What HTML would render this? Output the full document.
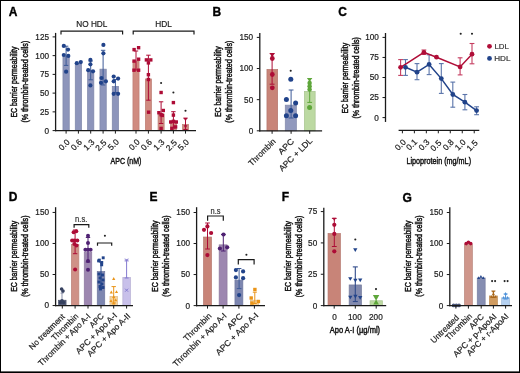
<!DOCTYPE html>
<html><head><meta charset="utf-8"><style>
html,body{margin:0;padding:0;background:#fff;}
svg{display:block;font-family:"Liberation Sans", sans-serif;will-change:transform;}
</style></head><body>
<svg width="520" height="373" viewBox="0 0 520 373">
<rect x="0" y="0" width="520" height="373" fill="#fff"/>
<text x="8.80" y="15.80" font-size="12" text-anchor="start" font-weight="bold" fill="#000" stroke="#000" stroke-width="0.35">A</text>
<line x1="55.60" y1="32.90" x2="55.60" y2="131.25" stroke="#1a1a1a" stroke-width="1.3"/>
<line x1="52.60" y1="130.60" x2="55.60" y2="130.60" stroke="#1a1a1a" stroke-width="1.0"/>
<text x="49.00" y="133.50" font-size="8.2" text-anchor="end" font-weight="normal" fill="#1c1c1c" stroke="#1c1c1c" stroke-width="0.2">0</text>
<line x1="52.60" y1="111.86" x2="55.60" y2="111.86" stroke="#1a1a1a" stroke-width="1.0"/>
<text x="49.00" y="114.76" font-size="8.2" text-anchor="end" font-weight="normal" fill="#1c1c1c" stroke="#1c1c1c" stroke-width="0.2">25</text>
<line x1="52.60" y1="93.12" x2="55.60" y2="93.12" stroke="#1a1a1a" stroke-width="1.0"/>
<text x="49.00" y="96.02" font-size="8.2" text-anchor="end" font-weight="normal" fill="#1c1c1c" stroke="#1c1c1c" stroke-width="0.2">50</text>
<line x1="52.60" y1="74.38" x2="55.60" y2="74.38" stroke="#1a1a1a" stroke-width="1.0"/>
<text x="49.00" y="77.28" font-size="8.2" text-anchor="end" font-weight="normal" fill="#1c1c1c" stroke="#1c1c1c" stroke-width="0.2">75</text>
<line x1="52.60" y1="55.64" x2="55.60" y2="55.64" stroke="#1a1a1a" stroke-width="1.0"/>
<text x="49.00" y="58.54" font-size="8.2" text-anchor="end" font-weight="normal" fill="#1c1c1c" stroke="#1c1c1c" stroke-width="0.2">100</text>
<line x1="52.60" y1="36.90" x2="55.60" y2="36.90" stroke="#1a1a1a" stroke-width="1.0"/>
<text x="49.00" y="39.80" font-size="8.2" text-anchor="end" font-weight="normal" fill="#1c1c1c" stroke="#1c1c1c" stroke-width="0.2">125</text>
<text transform="translate(16.70,82.05) rotate(-90)" font-size="9.0" text-anchor="middle" font-weight="normal" fill="#111" stroke="#111" stroke-width="0.45" textLength="71.11" lengthAdjust="spacingAndGlyphs">EC barrier permeability</text>
<text transform="translate(27.70,81.65) rotate(-90)" font-size="9.0" text-anchor="middle" font-weight="normal" fill="#111" stroke="#111" stroke-width="0.45" textLength="81.91" lengthAdjust="spacingAndGlyphs">(% thrombin-treated cells)</text>
<rect x="62.95" y="56.55" width="6.30" height="74.05" fill="#8d95bb" stroke="#7e86a8" stroke-width="0.7"/>
<rect x="75.25" y="63.25" width="6.30" height="67.35" fill="#8d95bb" stroke="#7e86a8" stroke-width="0.7"/>
<rect x="87.55" y="70.55" width="6.30" height="60.05" fill="#8d95bb" stroke="#7e86a8" stroke-width="0.7"/>
<rect x="99.95" y="69.15" width="6.30" height="61.45" fill="#8d95bb" stroke="#7e86a8" stroke-width="0.7"/>
<rect x="112.25" y="86.35" width="6.30" height="44.25" fill="#8d95bb" stroke="#7e86a8" stroke-width="0.7"/>
<rect x="132.95" y="60.95" width="6.10" height="69.65" fill="#d08b80" stroke="#bb7d73" stroke-width="0.7"/>
<rect x="145.35" y="78.95" width="6.10" height="51.65" fill="#d08b80" stroke="#bb7d73" stroke-width="0.7"/>
<rect x="158.05" y="113.95" width="6.10" height="16.65" fill="#d08b80" stroke="#bb7d73" stroke-width="0.7"/>
<rect x="170.35" y="120.95" width="6.10" height="9.65" fill="#d08b80" stroke="#bb7d73" stroke-width="0.7"/>
<rect x="182.45" y="124.55" width="6.10" height="6.05" fill="#d08b80" stroke="#bb7d73" stroke-width="0.7"/>
<line x1="66.10" y1="46.20" x2="66.10" y2="65.40" stroke="#3d5a98" stroke-width="1.0"/>
<line x1="63.90" y1="46.20" x2="68.30" y2="46.20" stroke="#3d5a98" stroke-width="1.0"/>
<line x1="63.90" y1="65.40" x2="68.30" y2="65.40" stroke="#3d5a98" stroke-width="1.0"/>
<circle cx="63.80" cy="45.90" r="2.1" fill="#21438a"/>
<circle cx="68.00" cy="49.60" r="2.1" fill="#21438a"/>
<circle cx="63.80" cy="55.00" r="2.1" fill="#21438a"/>
<circle cx="68.30" cy="55.90" r="2.1" fill="#21438a"/>
<circle cx="66.10" cy="71.70" r="2.1" fill="#21438a"/>
<circle cx="76.80" cy="63.20" r="2.1" fill="#21438a"/>
<circle cx="80.80" cy="62.10" r="2.1" fill="#21438a"/>
<line x1="90.70" y1="61.00" x2="90.70" y2="79.80" stroke="#3d5a98" stroke-width="1.0"/>
<line x1="88.50" y1="61.00" x2="92.90" y2="61.00" stroke="#3d5a98" stroke-width="1.0"/>
<line x1="88.50" y1="79.80" x2="92.90" y2="79.80" stroke="#3d5a98" stroke-width="1.0"/>
<circle cx="90.40" cy="59.90" r="2.1" fill="#21438a"/>
<circle cx="90.40" cy="64.30" r="2.1" fill="#21438a"/>
<circle cx="88.20" cy="70.20" r="2.1" fill="#21438a"/>
<circle cx="93.00" cy="71.30" r="2.1" fill="#21438a"/>
<circle cx="90.40" cy="85.40" r="2.1" fill="#21438a"/>
<line x1="103.10" y1="50.30" x2="103.10" y2="85.00" stroke="#3d5a98" stroke-width="1.0"/>
<line x1="100.90" y1="50.30" x2="105.30" y2="50.30" stroke="#3d5a98" stroke-width="1.0"/>
<line x1="100.90" y1="85.00" x2="105.30" y2="85.00" stroke="#3d5a98" stroke-width="1.0"/>
<circle cx="103.40" cy="44.90" r="2.1" fill="#21438a"/>
<circle cx="103.40" cy="53.30" r="2.1" fill="#21438a"/>
<circle cx="101.50" cy="78.00" r="2.1" fill="#21438a"/>
<circle cx="105.90" cy="81.30" r="2.1" fill="#21438a"/>
<circle cx="101.00" cy="82.80" r="2.1" fill="#21438a"/>
<line x1="115.40" y1="79.50" x2="115.40" y2="92.50" stroke="#3d5a98" stroke-width="1.0"/>
<line x1="113.20" y1="79.50" x2="117.60" y2="79.50" stroke="#3d5a98" stroke-width="1.0"/>
<line x1="113.20" y1="92.50" x2="117.60" y2="92.50" stroke="#3d5a98" stroke-width="1.0"/>
<circle cx="113.70" cy="76.60" r="2.1" fill="#21438a"/>
<circle cx="118.10" cy="78.60" r="2.1" fill="#21438a"/>
<circle cx="113.70" cy="81.30" r="2.1" fill="#21438a"/>
<circle cx="113.70" cy="93.80" r="2.1" fill="#21438a"/>
<circle cx="118.10" cy="93.80" r="2.1" fill="#21438a"/>
<line x1="136.00" y1="51.00" x2="136.00" y2="70.00" stroke="#ad0c36" stroke-width="1.0"/>
<line x1="133.80" y1="51.00" x2="138.20" y2="51.00" stroke="#ad0c36" stroke-width="1.0"/>
<line x1="133.80" y1="70.00" x2="138.20" y2="70.00" stroke="#ad0c36" stroke-width="1.0"/>
<rect x="132.40" y="47.90" width="3.4" height="3.4" fill="#ad0c36"/>
<rect x="136.90" y="46.00" width="3.4" height="3.4" fill="#ad0c36"/>
<rect x="132.40" y="59.40" width="3.4" height="3.4" fill="#ad0c36"/>
<rect x="136.90" y="57.50" width="3.4" height="3.4" fill="#ad0c36"/>
<rect x="132.30" y="68.50" width="3.4" height="3.4" fill="#ad0c36"/>
<rect x="136.90" y="68.50" width="3.4" height="3.4" fill="#ad0c36"/>
<line x1="148.40" y1="55.20" x2="148.40" y2="100.20" stroke="#ad0c36" stroke-width="1.0"/>
<line x1="146.20" y1="55.20" x2="150.60" y2="55.20" stroke="#ad0c36" stroke-width="1.0"/>
<line x1="146.20" y1="100.20" x2="150.60" y2="100.20" stroke="#ad0c36" stroke-width="1.0"/>
<rect x="144.70" y="58.20" width="3.4" height="3.4" fill="#ad0c36"/>
<rect x="149.10" y="58.20" width="3.4" height="3.4" fill="#ad0c36"/>
<rect x="146.70" y="61.20" width="3.4" height="3.4" fill="#ad0c36"/>
<rect x="146.70" y="73.00" width="3.4" height="3.4" fill="#ad0c36"/>
<rect x="146.70" y="77.80" width="3.4" height="3.4" fill="#ad0c36"/>
<rect x="146.90" y="110.50" width="3.4" height="3.4" fill="#ad0c36"/>
<line x1="161.10" y1="101.80" x2="161.10" y2="123.50" stroke="#ad0c36" stroke-width="1.0"/>
<line x1="158.90" y1="101.80" x2="163.30" y2="101.80" stroke="#ad0c36" stroke-width="1.0"/>
<line x1="158.90" y1="123.50" x2="163.30" y2="123.50" stroke="#ad0c36" stroke-width="1.0"/>
<rect x="159.40" y="90.80" width="3.4" height="3.4" fill="#ad0c36"/>
<rect x="161.60" y="108.80" width="3.4" height="3.4" fill="#ad0c36"/>
<rect x="157.20" y="111.00" width="3.4" height="3.4" fill="#ad0c36"/>
<rect x="159.40" y="113.00" width="3.4" height="3.4" fill="#ad0c36"/>
<rect x="160.60" y="113.70" width="3.4" height="3.4" fill="#ad0c36"/>
<rect x="159.40" y="126.70" width="3.4" height="3.4" fill="#ad0c36"/>
<circle cx="161.10" cy="83.00" r="1.05" fill="#222"/>
<line x1="173.40" y1="111.70" x2="173.40" y2="128.00" stroke="#ad0c36" stroke-width="1.0"/>
<line x1="171.20" y1="111.70" x2="175.60" y2="111.70" stroke="#ad0c36" stroke-width="1.0"/>
<line x1="171.20" y1="128.00" x2="175.60" y2="128.00" stroke="#ad0c36" stroke-width="1.0"/>
<rect x="171.70" y="100.90" width="3.4" height="3.4" fill="#ad0c36"/>
<rect x="171.70" y="113.40" width="3.4" height="3.4" fill="#ad0c36"/>
<rect x="169.00" y="120.30" width="3.4" height="3.4" fill="#ad0c36"/>
<rect x="171.70" y="119.60" width="3.4" height="3.4" fill="#ad0c36"/>
<rect x="174.60" y="120.30" width="3.4" height="3.4" fill="#ad0c36"/>
<rect x="170.20" y="126.70" width="3.4" height="3.4" fill="#ad0c36"/>
<rect x="173.90" y="125.20" width="3.4" height="3.4" fill="#ad0c36"/>
<circle cx="173.40" cy="92.50" r="1.05" fill="#222"/>
<line x1="185.50" y1="118.10" x2="185.50" y2="129.50" stroke="#ad0c36" stroke-width="1.0"/>
<line x1="183.30" y1="118.10" x2="187.70" y2="118.10" stroke="#ad0c36" stroke-width="1.0"/>
<line x1="183.30" y1="129.50" x2="187.70" y2="129.50" stroke="#ad0c36" stroke-width="1.0"/>
<circle cx="185.50" cy="110.70" r="1.05" fill="#222"/>
<path d="M183.60,117.95L187.40,117.95L185.50,121.25Z" fill="#ad0c36"/>
<path d="M183.60,125.25L187.40,125.25L185.50,128.55Z" fill="#ad0c36"/>
<line x1="54.95" y1="130.60" x2="196.00" y2="130.60" stroke="#1a1a1a" stroke-width="1.3"/>
<line x1="66.10" y1="130.60" x2="66.10" y2="133.60" stroke="#1a1a1a" stroke-width="1.0"/>
<line x1="78.40" y1="130.60" x2="78.40" y2="133.60" stroke="#1a1a1a" stroke-width="1.0"/>
<line x1="90.70" y1="130.60" x2="90.70" y2="133.60" stroke="#1a1a1a" stroke-width="1.0"/>
<line x1="103.10" y1="130.60" x2="103.10" y2="133.60" stroke="#1a1a1a" stroke-width="1.0"/>
<line x1="115.40" y1="130.60" x2="115.40" y2="133.60" stroke="#1a1a1a" stroke-width="1.0"/>
<line x1="136.00" y1="130.60" x2="136.00" y2="133.60" stroke="#1a1a1a" stroke-width="1.0"/>
<line x1="148.40" y1="130.60" x2="148.40" y2="133.60" stroke="#1a1a1a" stroke-width="1.0"/>
<line x1="161.10" y1="130.60" x2="161.10" y2="133.60" stroke="#1a1a1a" stroke-width="1.0"/>
<line x1="173.40" y1="130.60" x2="173.40" y2="133.60" stroke="#1a1a1a" stroke-width="1.0"/>
<line x1="185.50" y1="130.60" x2="185.50" y2="133.60" stroke="#1a1a1a" stroke-width="1.0"/>
<text transform="translate(70.30,142.66) rotate(-45)" font-size="8.4" text-anchor="end" font-weight="normal" fill="#1c1c1c" stroke="#1c1c1c" stroke-width="0.2">0.0</text>
<text transform="translate(82.50,142.66) rotate(-45)" font-size="8.4" text-anchor="end" font-weight="normal" fill="#1c1c1c" stroke="#1c1c1c" stroke-width="0.2">0.6</text>
<text transform="translate(95.00,142.66) rotate(-45)" font-size="8.4" text-anchor="end" font-weight="normal" fill="#1c1c1c" stroke="#1c1c1c" stroke-width="0.2">1.3</text>
<text transform="translate(107.10,143.16) rotate(-45)" font-size="8.4" text-anchor="end" font-weight="normal" fill="#1c1c1c" stroke="#1c1c1c" stroke-width="0.2">2.5</text>
<text transform="translate(119.50,142.56) rotate(-45)" font-size="8.4" text-anchor="end" font-weight="normal" fill="#1c1c1c" stroke="#1c1c1c" stroke-width="0.2">5.0</text>
<text transform="translate(140.40,142.56) rotate(-45)" font-size="8.4" text-anchor="end" font-weight="normal" fill="#1c1c1c" stroke="#1c1c1c" stroke-width="0.2">0.0</text>
<text transform="translate(152.50,142.66) rotate(-45)" font-size="8.4" text-anchor="end" font-weight="normal" fill="#1c1c1c" stroke="#1c1c1c" stroke-width="0.2">0.6</text>
<text transform="translate(165.10,142.66) rotate(-45)" font-size="8.4" text-anchor="end" font-weight="normal" fill="#1c1c1c" stroke="#1c1c1c" stroke-width="0.2">1.3</text>
<text transform="translate(177.50,143.16) rotate(-45)" font-size="8.4" text-anchor="end" font-weight="normal" fill="#1c1c1c" stroke="#1c1c1c" stroke-width="0.2">2.5</text>
<text transform="translate(189.60,142.66) rotate(-45)" font-size="8.4" text-anchor="end" font-weight="normal" fill="#1c1c1c" stroke="#1c1c1c" stroke-width="0.2">5.0</text>
<text x="110.60" y="163.50" font-size="9.3" text-anchor="start" font-weight="normal" fill="#111" stroke="#111" stroke-width="0.45" textLength="30.78" lengthAdjust="spacingAndGlyphs">APC (nM)</text>
<path d="M61,34.6V31.2H122.6V34.6" fill="none" stroke="#1a1a1a" stroke-width="1.2"/>
<path d="M133.2,34.6V31.2H194V34.6" fill="none" stroke="#1a1a1a" stroke-width="1.2"/>
<text x="76.25" y="26.65" font-size="8.8" text-anchor="start" font-weight="normal" fill="#1c1c1c" stroke="#1c1c1c" stroke-width="0.2" textLength="31.14" lengthAdjust="spacingAndGlyphs">NO HDL</text>
<text x="155.20" y="26.65" font-size="8.8" text-anchor="start" font-weight="normal" fill="#1c1c1c" stroke="#1c1c1c" stroke-width="0.2" textLength="16.58" lengthAdjust="spacingAndGlyphs">HDL</text>
<text x="212.40" y="16.35" font-size="12" text-anchor="start" font-weight="bold" fill="#000" stroke="#000" stroke-width="0.35">B</text>
<line x1="259.80" y1="33.00" x2="259.80" y2="131.45" stroke="#1a1a1a" stroke-width="1.3"/>
<line x1="256.80" y1="130.80" x2="259.80" y2="130.80" stroke="#1a1a1a" stroke-width="1.0"/>
<text x="253.20" y="133.70" font-size="8.2" text-anchor="end" font-weight="normal" fill="#1c1c1c" stroke="#1c1c1c" stroke-width="0.2">0</text>
<line x1="256.80" y1="99.67" x2="259.80" y2="99.67" stroke="#1a1a1a" stroke-width="1.0"/>
<text x="253.20" y="102.57" font-size="8.2" text-anchor="end" font-weight="normal" fill="#1c1c1c" stroke="#1c1c1c" stroke-width="0.2">50</text>
<line x1="256.80" y1="68.53" x2="259.80" y2="68.53" stroke="#1a1a1a" stroke-width="1.0"/>
<text x="253.20" y="71.43" font-size="8.2" text-anchor="end" font-weight="normal" fill="#1c1c1c" stroke="#1c1c1c" stroke-width="0.2">100</text>
<line x1="256.80" y1="37.40" x2="259.80" y2="37.40" stroke="#1a1a1a" stroke-width="1.0"/>
<text x="253.20" y="40.30" font-size="8.2" text-anchor="end" font-weight="normal" fill="#1c1c1c" stroke="#1c1c1c" stroke-width="0.2">150</text>
<text transform="translate(221.32,81.70) rotate(-90)" font-size="9.0" text-anchor="middle" font-weight="normal" fill="#111" stroke="#111" stroke-width="0.45" textLength="70.61" lengthAdjust="spacingAndGlyphs">EC barrier permeability</text>
<text transform="translate(232.32,81.65) rotate(-90)" font-size="9.0" text-anchor="middle" font-weight="normal" fill="#111" stroke="#111" stroke-width="0.45" textLength="82.11" lengthAdjust="spacingAndGlyphs">(% thrombin-treated cells)</text>
<rect x="266.95" y="69.45" width="10.70" height="61.35" fill="#c88478" stroke="#b4766c" stroke-width="0.7"/>
<rect x="285.25" y="105.15" width="11.10" height="25.65" fill="#9199bd" stroke="#8289aa" stroke-width="0.7"/>
<rect x="304.35" y="91.35" width="10.80" height="39.45" fill="#bcd9a2" stroke="#a9c391" stroke-width="0.7"/>
<line x1="272.10" y1="53.60" x2="272.10" y2="84.20" stroke="#ad0c36" stroke-width="1.0"/>
<line x1="269.70" y1="53.60" x2="274.50" y2="53.60" stroke="#ad0c36" stroke-width="1.0"/>
<line x1="269.70" y1="84.20" x2="274.50" y2="84.20" stroke="#ad0c36" stroke-width="1.0"/>
<path d="M269.60,52.94L274.80,52.94L272.20,57.46Z" fill="#ad0c36"/>
<circle cx="272.30" cy="58.50" r="2.4" fill="#ad0c36"/>
<circle cx="272.30" cy="74.50" r="2.4" fill="#ad0c36"/>
<circle cx="272.30" cy="87.80" r="2.4" fill="#ad0c36"/>
<line x1="291.10" y1="90.00" x2="291.10" y2="118.00" stroke="#3d5a98" stroke-width="1.0"/>
<line x1="288.70" y1="90.00" x2="293.50" y2="90.00" stroke="#3d5a98" stroke-width="1.0"/>
<line x1="288.70" y1="118.00" x2="293.50" y2="118.00" stroke="#3d5a98" stroke-width="1.0"/>
<circle cx="290.80" cy="79.30" r="2.5" fill="#21438a"/>
<circle cx="286.40" cy="99.60" r="2.5" fill="#21438a"/>
<circle cx="295.60" cy="102.90" r="2.5" fill="#21438a"/>
<circle cx="290.80" cy="110.50" r="2.5" fill="#21438a"/>
<circle cx="286.40" cy="115.80" r="2.5" fill="#21438a"/>
<circle cx="295.60" cy="115.80" r="2.5" fill="#21438a"/>
<circle cx="290.70" cy="70.80" r="1.05" fill="#222"/>
<line x1="309.70" y1="78.60" x2="309.70" y2="102.40" stroke="#5ea63a" stroke-width="1.0"/>
<line x1="307.30" y1="78.60" x2="312.10" y2="78.60" stroke="#5ea63a" stroke-width="1.0"/>
<line x1="307.30" y1="102.40" x2="312.10" y2="102.40" stroke="#5ea63a" stroke-width="1.0"/>
<path d="M307.30,78.20L311.90,78.20L309.60,82.20Z" fill="#5ea63a"/>
<circle cx="309.60" cy="83.00" r="2.25" fill="#5ea63a"/>
<circle cx="309.60" cy="86.20" r="2.25" fill="#5ea63a"/>
<circle cx="309.60" cy="89.40" r="2.25" fill="#5ea63a"/>
<circle cx="309.60" cy="107.60" r="2.5" fill="#5ea63a"/>
<line x1="259.15" y1="130.80" x2="322.10" y2="130.80" stroke="#1a1a1a" stroke-width="1.3"/>
<line x1="272.10" y1="130.80" x2="272.10" y2="133.80" stroke="#1a1a1a" stroke-width="1.0"/>
<line x1="291.10" y1="130.80" x2="291.10" y2="133.80" stroke="#1a1a1a" stroke-width="1.0"/>
<line x1="309.70" y1="130.80" x2="309.70" y2="133.80" stroke="#1a1a1a" stroke-width="1.0"/>
<text transform="translate(276.30,141.96) rotate(-45)" font-size="8.3" text-anchor="end" font-weight="normal" fill="#1c1c1c" stroke="#1c1c1c" stroke-width="0.2" textLength="34.79" lengthAdjust="spacingAndGlyphs">Thrombin</text>
<text transform="translate(294.55,141.96) rotate(-45)" font-size="8.3" text-anchor="end" font-weight="normal" fill="#1c1c1c" stroke="#1c1c1c" stroke-width="0.2" textLength="18.58" lengthAdjust="spacingAndGlyphs">APC</text>
<text transform="translate(312.80,141.26) rotate(-45)" font-size="8.3" text-anchor="end" font-weight="normal" fill="#1c1c1c" stroke="#1c1c1c" stroke-width="0.2" textLength="43.18" lengthAdjust="spacingAndGlyphs">APC + LDL</text>
<text x="338.30" y="16.20" font-size="12" text-anchor="start" font-weight="bold" fill="#000" stroke="#000" stroke-width="0.35">C</text>
<line x1="385.50" y1="33.00" x2="385.50" y2="121.95" stroke="#1a1a1a" stroke-width="1.3"/>
<line x1="382.50" y1="117.60" x2="385.50" y2="117.60" stroke="#1a1a1a" stroke-width="1.0"/>
<text x="378.90" y="120.50" font-size="8.2" text-anchor="end" font-weight="normal" fill="#1c1c1c" stroke="#1c1c1c" stroke-width="0.2">0</text>
<line x1="382.50" y1="97.55" x2="385.50" y2="97.55" stroke="#1a1a1a" stroke-width="1.0"/>
<text x="378.90" y="100.45" font-size="8.2" text-anchor="end" font-weight="normal" fill="#1c1c1c" stroke="#1c1c1c" stroke-width="0.2">25</text>
<line x1="382.50" y1="77.50" x2="385.50" y2="77.50" stroke="#1a1a1a" stroke-width="1.0"/>
<text x="378.90" y="80.40" font-size="8.2" text-anchor="end" font-weight="normal" fill="#1c1c1c" stroke="#1c1c1c" stroke-width="0.2">50</text>
<line x1="382.50" y1="57.45" x2="385.50" y2="57.45" stroke="#1a1a1a" stroke-width="1.0"/>
<text x="378.90" y="60.35" font-size="8.2" text-anchor="end" font-weight="normal" fill="#1c1c1c" stroke="#1c1c1c" stroke-width="0.2">75</text>
<line x1="382.50" y1="37.40" x2="385.50" y2="37.40" stroke="#1a1a1a" stroke-width="1.0"/>
<text x="378.90" y="40.30" font-size="8.2" text-anchor="end" font-weight="normal" fill="#1c1c1c" stroke="#1c1c1c" stroke-width="0.2">100</text>
<text transform="translate(347.60,78.20) rotate(-90)" font-size="9.0" text-anchor="middle" font-weight="normal" fill="#111" stroke="#111" stroke-width="0.45" textLength="70.62" lengthAdjust="spacingAndGlyphs">EC barrier permeability</text>
<text transform="translate(358.60,77.80) rotate(-90)" font-size="9.0" text-anchor="middle" font-weight="normal" fill="#111" stroke="#111" stroke-width="0.45" textLength="81.42" lengthAdjust="spacingAndGlyphs">(% thrombin-treated cells)</text>
<line x1="398.60" y1="130.30" x2="479.30" y2="130.30" stroke="#1a1a1a" stroke-width="1.3"/>
<line x1="402.40" y1="130.30" x2="402.40" y2="133.30" stroke="#1a1a1a" stroke-width="1.0"/>
<line x1="414.37" y1="130.30" x2="414.37" y2="133.30" stroke="#1a1a1a" stroke-width="1.0"/>
<line x1="426.34" y1="130.30" x2="426.34" y2="133.30" stroke="#1a1a1a" stroke-width="1.0"/>
<line x1="438.31" y1="130.30" x2="438.31" y2="133.30" stroke="#1a1a1a" stroke-width="1.0"/>
<line x1="450.28" y1="130.30" x2="450.28" y2="133.30" stroke="#1a1a1a" stroke-width="1.0"/>
<line x1="462.25" y1="130.30" x2="462.25" y2="133.30" stroke="#1a1a1a" stroke-width="1.0"/>
<line x1="474.22" y1="130.30" x2="474.22" y2="133.30" stroke="#1a1a1a" stroke-width="1.0"/>
<text transform="translate(406.50,142.76) rotate(-45)" font-size="8.4" text-anchor="end" font-weight="normal" fill="#1c1c1c" stroke="#1c1c1c" stroke-width="0.2">0.0</text>
<text transform="translate(417.82,142.46) rotate(-45)" font-size="8.4" text-anchor="end" font-weight="normal" fill="#1c1c1c" stroke="#1c1c1c" stroke-width="0.2">0.1</text>
<text transform="translate(430.14,142.76) rotate(-45)" font-size="8.4" text-anchor="end" font-weight="normal" fill="#1c1c1c" stroke="#1c1c1c" stroke-width="0.2">0.3</text>
<text transform="translate(442.06,143.56) rotate(-45)" font-size="8.4" text-anchor="end" font-weight="normal" fill="#1c1c1c" stroke="#1c1c1c" stroke-width="0.2">0.5</text>
<text transform="translate(454.38,142.76) rotate(-45)" font-size="8.4" text-anchor="end" font-weight="normal" fill="#1c1c1c" stroke="#1c1c1c" stroke-width="0.2">0.8</text>
<text transform="translate(466.40,142.76) rotate(-45)" font-size="8.4" text-anchor="end" font-weight="normal" fill="#1c1c1c" stroke="#1c1c1c" stroke-width="0.2">1.0</text>
<text transform="translate(478.22,143.46) rotate(-45)" font-size="8.4" text-anchor="end" font-weight="normal" fill="#1c1c1c" stroke="#1c1c1c" stroke-width="0.2">1.5</text>
<text x="406.45" y="163.85" font-size="9.3" text-anchor="start" font-weight="normal" fill="#111" stroke="#111" stroke-width="0.45" textLength="64.61" lengthAdjust="spacingAndGlyphs">Lipoprotein (mg/mL)</text>
<line x1="405.50" y1="59.60" x2="405.50" y2="75.40" stroke="#5a74aa" stroke-width="1.1"/>
<line x1="403.10" y1="59.60" x2="407.90" y2="59.60" stroke="#5a74aa" stroke-width="1.1"/>
<line x1="403.10" y1="75.40" x2="407.90" y2="75.40" stroke="#5a74aa" stroke-width="1.1"/>
<line x1="417.00" y1="63.60" x2="417.00" y2="79.70" stroke="#5a74aa" stroke-width="1.1"/>
<line x1="414.60" y1="63.60" x2="419.40" y2="63.60" stroke="#5a74aa" stroke-width="1.1"/>
<line x1="414.60" y1="79.70" x2="419.40" y2="79.70" stroke="#5a74aa" stroke-width="1.1"/>
<line x1="429.10" y1="54.80" x2="429.10" y2="74.60" stroke="#5a74aa" stroke-width="1.1"/>
<line x1="426.70" y1="54.80" x2="431.50" y2="54.80" stroke="#5a74aa" stroke-width="1.1"/>
<line x1="426.70" y1="74.60" x2="431.50" y2="74.60" stroke="#5a74aa" stroke-width="1.1"/>
<line x1="441.30" y1="63.60" x2="441.30" y2="93.40" stroke="#5a74aa" stroke-width="1.1"/>
<line x1="438.90" y1="63.60" x2="443.70" y2="63.60" stroke="#5a74aa" stroke-width="1.1"/>
<line x1="438.90" y1="93.40" x2="443.70" y2="93.40" stroke="#5a74aa" stroke-width="1.1"/>
<line x1="452.80" y1="82.10" x2="452.80" y2="107.20" stroke="#5a74aa" stroke-width="1.1"/>
<line x1="450.40" y1="82.10" x2="455.20" y2="82.10" stroke="#5a74aa" stroke-width="1.1"/>
<line x1="450.40" y1="107.20" x2="455.20" y2="107.20" stroke="#5a74aa" stroke-width="1.1"/>
<line x1="464.90" y1="94.50" x2="464.90" y2="109.80" stroke="#5a74aa" stroke-width="1.1"/>
<line x1="462.50" y1="94.50" x2="467.30" y2="94.50" stroke="#5a74aa" stroke-width="1.1"/>
<line x1="462.50" y1="109.80" x2="467.30" y2="109.80" stroke="#5a74aa" stroke-width="1.1"/>
<line x1="476.60" y1="106.80" x2="476.60" y2="114.70" stroke="#5a74aa" stroke-width="1.1"/>
<line x1="474.20" y1="106.80" x2="479.00" y2="106.80" stroke="#5a74aa" stroke-width="1.1"/>
<line x1="474.20" y1="114.70" x2="479.00" y2="114.70" stroke="#5a74aa" stroke-width="1.1"/>
<line x1="400.60" y1="59.60" x2="400.60" y2="75.40" stroke="#c53d60" stroke-width="1.1"/>
<line x1="398.20" y1="59.60" x2="403.00" y2="59.60" stroke="#c53d60" stroke-width="1.1"/>
<line x1="398.20" y1="75.40" x2="403.00" y2="75.40" stroke="#c53d60" stroke-width="1.1"/>
<line x1="423.90" y1="50.00" x2="423.90" y2="54.40" stroke="#c53d60" stroke-width="1.1"/>
<line x1="421.50" y1="50.00" x2="426.30" y2="50.00" stroke="#c53d60" stroke-width="1.1"/>
<line x1="421.50" y1="54.40" x2="426.30" y2="54.40" stroke="#c53d60" stroke-width="1.1"/>
<line x1="460.10" y1="57.80" x2="460.10" y2="74.90" stroke="#c53d60" stroke-width="1.1"/>
<line x1="457.70" y1="57.80" x2="462.50" y2="57.80" stroke="#c53d60" stroke-width="1.1"/>
<line x1="457.70" y1="74.90" x2="462.50" y2="74.90" stroke="#c53d60" stroke-width="1.1"/>
<line x1="472.00" y1="43.50" x2="472.00" y2="63.80" stroke="#c53d60" stroke-width="1.1"/>
<line x1="469.60" y1="43.50" x2="474.40" y2="43.50" stroke="#c53d60" stroke-width="1.1"/>
<line x1="469.60" y1="63.80" x2="474.40" y2="63.80" stroke="#c53d60" stroke-width="1.1"/>
<polyline points="405.5,67.3 417.0,72.2 429.1,64.4 441.3,78.6 452.8,94.5 464.9,102.2 476.6,110.6" fill="none" stroke="#21438a" stroke-width="1.5"/>
<polyline points="400.6,67.3 423.9,52.4 436.5,57.2 460.1,66.9 472.0,54.2" fill="none" stroke="#b00e38" stroke-width="1.5"/>
<circle cx="405.50" cy="67.30" r="2.4" fill="#21438a"/>
<circle cx="417.00" cy="72.20" r="2.4" fill="#21438a"/>
<circle cx="429.10" cy="64.40" r="2.4" fill="#21438a"/>
<circle cx="441.30" cy="78.60" r="2.4" fill="#21438a"/>
<circle cx="452.80" cy="94.50" r="2.4" fill="#21438a"/>
<circle cx="464.90" cy="102.20" r="2.4" fill="#21438a"/>
<circle cx="476.60" cy="110.60" r="2.4" fill="#21438a"/>
<circle cx="400.60" cy="67.30" r="2.4" fill="#b00e38"/>
<circle cx="423.90" cy="52.40" r="2.4" fill="#b00e38"/>
<circle cx="436.50" cy="57.20" r="2.4" fill="#b00e38"/>
<circle cx="460.10" cy="66.90" r="2.4" fill="#b00e38"/>
<circle cx="472.00" cy="54.20" r="2.4" fill="#b00e38"/>
<circle cx="460.70" cy="33.70" r="1.05" fill="#222"/>
<circle cx="472.00" cy="33.70" r="1.05" fill="#222"/>
<circle cx="489.50" cy="46.30" r="2.4" fill="#b00e38"/>
<circle cx="489.50" cy="58.40" r="2.4" fill="#21438a"/>
<text x="494.45" y="48.55" font-size="8.0" text-anchor="start" font-weight="normal" fill="#333" stroke="#333" stroke-width="0.2" textLength="14.44" lengthAdjust="spacingAndGlyphs">LDL</text>
<text x="494.25" y="60.70" font-size="8.0" text-anchor="start" font-weight="normal" fill="#333" stroke="#333" stroke-width="0.2" textLength="16.18" lengthAdjust="spacingAndGlyphs">HDL</text>
<text x="8.80" y="201.10" font-size="12" text-anchor="start" font-weight="bold" fill="#000" stroke="#000" stroke-width="0.35">D</text>
<line x1="55.60" y1="207.20" x2="55.60" y2="306.20" stroke="#1a1a1a" stroke-width="1.3"/>
<line x1="52.60" y1="305.55" x2="55.60" y2="305.55" stroke="#1a1a1a" stroke-width="1.0"/>
<text x="49.00" y="308.45" font-size="8.2" text-anchor="end" font-weight="normal" fill="#1c1c1c" stroke="#1c1c1c" stroke-width="0.2">0</text>
<line x1="52.60" y1="274.51" x2="55.60" y2="274.51" stroke="#1a1a1a" stroke-width="1.0"/>
<text x="49.00" y="277.41" font-size="8.2" text-anchor="end" font-weight="normal" fill="#1c1c1c" stroke="#1c1c1c" stroke-width="0.2">50</text>
<line x1="52.60" y1="243.48" x2="55.60" y2="243.48" stroke="#1a1a1a" stroke-width="1.0"/>
<text x="49.00" y="246.38" font-size="8.2" text-anchor="end" font-weight="normal" fill="#1c1c1c" stroke="#1c1c1c" stroke-width="0.2">100</text>
<line x1="52.60" y1="212.44" x2="55.60" y2="212.44" stroke="#1a1a1a" stroke-width="1.0"/>
<text x="49.00" y="215.34" font-size="8.2" text-anchor="end" font-weight="normal" fill="#1c1c1c" stroke="#1c1c1c" stroke-width="0.2">150</text>
<text transform="translate(16.70,256.35) rotate(-90)" font-size="9.0" text-anchor="middle" font-weight="normal" fill="#111" stroke="#111" stroke-width="0.45" textLength="70.92" lengthAdjust="spacingAndGlyphs">EC barrier permeability</text>
<text transform="translate(27.70,256.15) rotate(-90)" font-size="9.0" text-anchor="middle" font-weight="normal" fill="#111" stroke="#111" stroke-width="0.45" textLength="81.31" lengthAdjust="spacingAndGlyphs">(% thrombin-treated cells)</text>
<rect x="58.55" y="300.25" width="7.50" height="5.30" fill="#555d78" stroke="#4c536c" stroke-width="0.7"/>
<rect x="71.35" y="244.35" width="7.50" height="61.20" fill="#cf9187" stroke="#ba8279" stroke-width="0.7"/>
<rect x="84.25" y="252.55" width="7.50" height="53.00" fill="#9d87b0" stroke="#8d799e" stroke-width="0.7"/>
<rect x="97.25" y="271.55" width="7.50" height="34.00" fill="#7d86b0" stroke="#70789e" stroke-width="0.7"/>
<rect x="109.95" y="296.35" width="7.50" height="9.20" fill="#f6d39e" stroke="#ddbd8e" stroke-width="0.7"/>
<rect x="122.85" y="277.55" width="7.50" height="28.00" fill="#c8c0ea" stroke="#b4acd2" stroke-width="0.7"/>
<line x1="62.00" y1="290.50" x2="62.00" y2="300.00" stroke="#8a90a8" stroke-width="1.0"/>
<line x1="60.50" y1="293.20" x2="63.50" y2="293.20" stroke="#8a90a8" stroke-width="0.9"/>
<circle cx="61.60" cy="289.00" r="1.8" fill="#36415f"/>
<circle cx="63.00" cy="291.10" r="1.8" fill="#36415f"/>
<circle cx="60.50" cy="302.50" r="1.8" fill="#36415f"/>
<circle cx="63.50" cy="302.50" r="1.8" fill="#36415f"/>
<circle cx="62.00" cy="300.80" r="1.8" fill="#36415f"/>
<line x1="75.10" y1="230.00" x2="75.10" y2="253.70" stroke="#ad0c36" stroke-width="1.0"/>
<line x1="72.90" y1="230.00" x2="77.30" y2="230.00" stroke="#ad0c36" stroke-width="1.0"/>
<line x1="72.90" y1="253.70" x2="77.30" y2="253.70" stroke="#ad0c36" stroke-width="1.0"/>
<circle cx="73.60" cy="232.30" r="2.0" fill="#ad0c36"/>
<circle cx="76.30" cy="231.30" r="2.0" fill="#ad0c36"/>
<circle cx="72.10" cy="240.40" r="2.0" fill="#ad0c36"/>
<circle cx="74.30" cy="240.40" r="2.0" fill="#ad0c36"/>
<circle cx="77.30" cy="240.40" r="2.0" fill="#ad0c36"/>
<circle cx="74.30" cy="244.10" r="2.0" fill="#ad0c36"/>
<circle cx="76.50" cy="245.60" r="2.0" fill="#ad0c36"/>
<circle cx="75.10" cy="269.40" r="2.0" fill="#ad0c36"/>
<line x1="88.00" y1="237.50" x2="88.00" y2="262.00" stroke="#4e2172" stroke-width="1.0"/>
<line x1="85.80" y1="237.50" x2="90.20" y2="237.50" stroke="#4e2172" stroke-width="1.0"/>
<line x1="85.80" y1="262.00" x2="90.20" y2="262.00" stroke="#4e2172" stroke-width="1.0"/>
<circle cx="88.00" cy="235.70" r="2.0" fill="#4e2172"/>
<circle cx="88.00" cy="243.00" r="2.0" fill="#4e2172"/>
<circle cx="85.40" cy="249.80" r="2.0" fill="#4e2172"/>
<circle cx="88.00" cy="249.80" r="2.0" fill="#4e2172"/>
<circle cx="90.60" cy="249.80" r="2.0" fill="#4e2172"/>
<circle cx="88.00" cy="261.10" r="2.0" fill="#4e2172"/>
<circle cx="88.00" cy="269.80" r="2.0" fill="#4e2172"/>
<line x1="101.00" y1="262.00" x2="101.00" y2="288.00" stroke="#21438a" stroke-width="1.0"/>
<line x1="98.80" y1="262.00" x2="103.20" y2="262.00" stroke="#21438a" stroke-width="1.0"/>
<line x1="98.80" y1="288.00" x2="103.20" y2="288.00" stroke="#21438a" stroke-width="1.0"/>
<rect x="97.85" y="258.65" width="2.9" height="2.9" fill="#21438a"/>
<rect x="101.75" y="256.35" width="2.9" height="2.9" fill="#21438a"/>
<rect x="100.25" y="261.05" width="2.9" height="2.9" fill="#21438a"/>
<rect x="100.25" y="263.35" width="2.9" height="2.9" fill="#21438a"/>
<rect x="97.15" y="259.45" width="2.9" height="2.9" fill="#21438a"/>
<rect x="97.55" y="272.55" width="2.9" height="2.9" fill="#21438a"/>
<rect x="101.05" y="273.55" width="2.9" height="2.9" fill="#21438a"/>
<rect x="98.55" y="276.55" width="2.9" height="2.9" fill="#21438a"/>
<rect x="101.55" y="278.55" width="2.9" height="2.9" fill="#21438a"/>
<rect x="97.55" y="280.55" width="2.9" height="2.9" fill="#21438a"/>
<rect x="100.55" y="282.55" width="2.9" height="2.9" fill="#21438a"/>
<rect x="98.55" y="285.05" width="2.9" height="2.9" fill="#21438a"/>
<rect x="101.55" y="286.05" width="2.9" height="2.9" fill="#21438a"/>
<rect x="99.05" y="287.55" width="2.9" height="2.9" fill="#21438a"/>
<line x1="113.70" y1="286.60" x2="113.70" y2="303.00" stroke="#ea9418" stroke-width="1.0"/>
<line x1="111.50" y1="286.60" x2="115.90" y2="286.60" stroke="#ea9418" stroke-width="1.0"/>
<line x1="111.50" y1="303.00" x2="115.90" y2="303.00" stroke="#ea9418" stroke-width="1.0"/>
<path d="M112.10,279.89L115.30,279.89L113.70,277.11Z" fill="#ea9418"/>
<path d="M109.70,293.39L112.90,293.39L111.30,290.61Z" fill="#ea9418"/>
<path d="M114.90,293.09L118.10,293.09L116.50,290.31Z" fill="#ea9418"/>
<path d="M112.10,298.09L115.30,298.09L113.70,295.31Z" fill="#ea9418"/>
<path d="M109.40,301.99L112.60,301.99L111.00,299.21Z" fill="#ea9418"/>
<path d="M114.10,301.19L117.30,301.19L115.70,298.41Z" fill="#ea9418"/>
<path d="M112.10,304.39L115.30,304.39L113.70,301.61Z" fill="#ea9418"/>
<line x1="126.60" y1="260.10" x2="126.60" y2="278.00" stroke="#857bd0" stroke-width="1.0"/>
<line x1="124.60" y1="260.10" x2="128.60" y2="260.10" stroke="#857bd0" stroke-width="1.0"/>
<line x1="124.60" y1="278.00" x2="128.60" y2="278.00" stroke="#857bd0" stroke-width="1.0"/>
<path d="M125.10,258.60L128.10,261.60M128.10,258.60L125.10,261.60" stroke="#857bd0" stroke-width="1.0"/>
<path d="M125.10,288.70L128.10,291.70M128.10,288.70L125.10,291.70" stroke="#857bd0" stroke-width="1.0"/>
<line x1="54.95" y1="305.55" x2="133.00" y2="305.55" stroke="#1a1a1a" stroke-width="1.3"/>
<line x1="62.30" y1="305.55" x2="62.30" y2="308.55" stroke="#1a1a1a" stroke-width="1.0"/>
<line x1="75.10" y1="305.55" x2="75.10" y2="308.55" stroke="#1a1a1a" stroke-width="1.0"/>
<line x1="88.00" y1="305.55" x2="88.00" y2="308.55" stroke="#1a1a1a" stroke-width="1.0"/>
<line x1="101.00" y1="305.55" x2="101.00" y2="308.55" stroke="#1a1a1a" stroke-width="1.0"/>
<line x1="113.70" y1="305.55" x2="113.70" y2="308.55" stroke="#1a1a1a" stroke-width="1.0"/>
<line x1="126.60" y1="305.55" x2="126.60" y2="308.55" stroke="#1a1a1a" stroke-width="1.0"/>
<text transform="translate(65.35,317.16) rotate(-45)" font-size="8.3" text-anchor="end" font-weight="normal" fill="#1c1c1c" stroke="#1c1c1c" stroke-width="0.2" textLength="46.81" lengthAdjust="spacingAndGlyphs">No treatment</text>
<text transform="translate(78.80,316.96) rotate(-45)" font-size="8.3" text-anchor="end" font-weight="normal" fill="#1c1c1c" stroke="#1c1c1c" stroke-width="0.2" textLength="33.95" lengthAdjust="spacingAndGlyphs">Thrombin</text>
<text transform="translate(91.20,316.96) rotate(-45)" font-size="8.3" text-anchor="end" font-weight="normal" fill="#1c1c1c" stroke="#1c1c1c" stroke-width="0.2" textLength="70.15" lengthAdjust="spacingAndGlyphs">Thrombin + Apo A-I</text>
<text transform="translate(104.40,316.56) rotate(-45)" font-size="8.3" text-anchor="end" font-weight="normal" fill="#1c1c1c" stroke="#1c1c1c" stroke-width="0.2" textLength="16.48" lengthAdjust="spacingAndGlyphs">APC</text>
<text transform="translate(117.55,315.96) rotate(-45)" font-size="8.3" text-anchor="end" font-weight="normal" fill="#1c1c1c" stroke="#1c1c1c" stroke-width="0.2" textLength="54.65" lengthAdjust="spacingAndGlyphs">APC + Apo A-I</text>
<text transform="translate(130.80,316.56) rotate(-45)" font-size="8.3" text-anchor="end" font-weight="normal" fill="#1c1c1c" stroke="#1c1c1c" stroke-width="0.2" textLength="57.06" lengthAdjust="spacingAndGlyphs">APC + Apo A-II</text>
<path d="M74.1,227.7V224.7H88.8V227.7" fill="none" stroke="#1a1a1a" stroke-width="1.2"/>
<text x="75.10" y="221.90" font-size="8.6" text-anchor="start" font-weight="normal" fill="#333" stroke="#333" stroke-width="0.2" textLength="12.24" lengthAdjust="spacingAndGlyphs">n.s.</text>
<path d="M97.5,245.8V243H111.7V245.8" fill="none" stroke="#1a1a1a" stroke-width="1.2"/>
<circle cx="104.90" cy="235.70" r="1.05" fill="#222"/>
<text x="149.60" y="201.10" font-size="12" text-anchor="start" font-weight="bold" fill="#000" stroke="#000" stroke-width="0.35">E</text>
<line x1="196.60" y1="207.20" x2="196.60" y2="306.25" stroke="#1a1a1a" stroke-width="1.3"/>
<line x1="193.60" y1="305.60" x2="196.60" y2="305.60" stroke="#1a1a1a" stroke-width="1.0"/>
<text x="190.00" y="308.50" font-size="8.2" text-anchor="end" font-weight="normal" fill="#1c1c1c" stroke="#1c1c1c" stroke-width="0.2">0</text>
<line x1="193.60" y1="274.56" x2="196.60" y2="274.56" stroke="#1a1a1a" stroke-width="1.0"/>
<text x="190.00" y="277.46" font-size="8.2" text-anchor="end" font-weight="normal" fill="#1c1c1c" stroke="#1c1c1c" stroke-width="0.2">50</text>
<line x1="193.60" y1="243.53" x2="196.60" y2="243.53" stroke="#1a1a1a" stroke-width="1.0"/>
<text x="190.00" y="246.43" font-size="8.2" text-anchor="end" font-weight="normal" fill="#1c1c1c" stroke="#1c1c1c" stroke-width="0.2">100</text>
<line x1="193.60" y1="212.50" x2="196.60" y2="212.50" stroke="#1a1a1a" stroke-width="1.0"/>
<text x="190.00" y="215.40" font-size="8.2" text-anchor="end" font-weight="normal" fill="#1c1c1c" stroke="#1c1c1c" stroke-width="0.2">150</text>
<text transform="translate(157.70,256.25) rotate(-90)" font-size="9.0" text-anchor="middle" font-weight="normal" fill="#111" stroke="#111" stroke-width="0.45" textLength="71.32" lengthAdjust="spacingAndGlyphs">EC barrier permeability</text>
<text transform="translate(168.70,256.05) rotate(-90)" font-size="9.0" text-anchor="middle" font-weight="normal" fill="#111" stroke="#111" stroke-width="0.45" textLength="81.31" lengthAdjust="spacingAndGlyphs">(% thrombin-treated cells)</text>
<rect x="203.55" y="237.05" width="7.90" height="68.55" fill="#c88478" stroke="#b4766c" stroke-width="0.7"/>
<rect x="219.15" y="244.85" width="7.90" height="60.75" fill="#9d87b0" stroke="#8d799e" stroke-width="0.7"/>
<rect x="234.95" y="280.15" width="7.90" height="25.45" fill="#7d86b0" stroke="#70789e" stroke-width="0.7"/>
<rect x="250.45" y="300.25" width="7.90" height="5.35" fill="#f6d39e" stroke="#ddbd8e" stroke-width="0.7"/>
<line x1="207.50" y1="223.00" x2="207.50" y2="249.00" stroke="#ad0c36" stroke-width="1.0"/>
<line x1="205.20" y1="223.00" x2="209.80" y2="223.00" stroke="#ad0c36" stroke-width="1.0"/>
<line x1="205.20" y1="249.00" x2="209.80" y2="249.00" stroke="#ad0c36" stroke-width="1.0"/>
<circle cx="204.00" cy="229.80" r="2.1" fill="#ad0c36"/>
<circle cx="207.40" cy="226.40" r="2.1" fill="#ad0c36"/>
<circle cx="211.10" cy="233.00" r="2.1" fill="#ad0c36"/>
<circle cx="207.40" cy="255.10" r="2.1" fill="#ad0c36"/>
<line x1="223.30" y1="234.50" x2="223.30" y2="251.00" stroke="#4e2172" stroke-width="1.0"/>
<line x1="221.00" y1="234.50" x2="225.60" y2="234.50" stroke="#4e2172" stroke-width="1.0"/>
<line x1="221.00" y1="251.00" x2="225.60" y2="251.00" stroke="#4e2172" stroke-width="1.0"/>
<circle cx="223.50" cy="234.50" r="2.1" fill="#4e2172"/>
<circle cx="219.90" cy="248.50" r="2.1" fill="#4e2172"/>
<circle cx="227.20" cy="247.30" r="2.1" fill="#4e2172"/>
<line x1="239.10" y1="268.50" x2="239.10" y2="288.60" stroke="#3d5a98" stroke-width="1.0"/>
<line x1="236.80" y1="268.50" x2="241.40" y2="268.50" stroke="#3d5a98" stroke-width="1.0"/>
<line x1="236.80" y1="288.60" x2="241.40" y2="288.60" stroke="#3d5a98" stroke-width="1.0"/>
<circle cx="235.90" cy="270.10" r="2.1" fill="#21438a"/>
<circle cx="243.10" cy="271.40" r="2.1" fill="#21438a"/>
<circle cx="235.90" cy="277.40" r="2.1" fill="#21438a"/>
<circle cx="243.10" cy="278.20" r="2.1" fill="#21438a"/>
<circle cx="239.10" cy="295.10" r="2.1" fill="#21438a"/>
<line x1="254.80" y1="292.20" x2="254.80" y2="303.50" stroke="#ea9418" stroke-width="1.0"/>
<line x1="252.80" y1="292.20" x2="256.80" y2="292.20" stroke="#ea9418" stroke-width="1.0"/>
<line x1="252.80" y1="303.50" x2="256.80" y2="303.50" stroke="#ea9418" stroke-width="1.0"/>
<rect x="253.20" y="287.80" width="3.4" height="3.4" fill="#ea9418"/>
<rect x="249.50" y="296.30" width="3.4" height="3.4" fill="#ea9418"/>
<rect x="256.70" y="299.80" width="3.4" height="3.4" fill="#ea9418"/>
<rect x="250.30" y="301.40" width="3.4" height="3.4" fill="#ea9418"/>
<line x1="195.95" y1="305.60" x2="265.00" y2="305.60" stroke="#1a1a1a" stroke-width="1.3"/>
<line x1="207.50" y1="305.60" x2="207.50" y2="308.60" stroke="#1a1a1a" stroke-width="1.0"/>
<line x1="223.10" y1="305.60" x2="223.10" y2="308.60" stroke="#1a1a1a" stroke-width="1.0"/>
<line x1="238.90" y1="305.60" x2="238.90" y2="308.60" stroke="#1a1a1a" stroke-width="1.0"/>
<line x1="254.40" y1="305.60" x2="254.40" y2="308.60" stroke="#1a1a1a" stroke-width="1.0"/>
<text transform="translate(212.00,316.46) rotate(-45)" font-size="8.3" text-anchor="end" font-weight="normal" fill="#1c1c1c" stroke="#1c1c1c" stroke-width="0.2" textLength="35.82" lengthAdjust="spacingAndGlyphs">Thrombin</text>
<text transform="translate(227.20,316.26) rotate(-45)" font-size="8.3" text-anchor="end" font-weight="normal" fill="#1c1c1c" stroke="#1c1c1c" stroke-width="0.2" textLength="72.17" lengthAdjust="spacingAndGlyphs">Thrombin + Apo A-I</text>
<text transform="translate(243.35,316.66) rotate(-45)" font-size="8.3" text-anchor="end" font-weight="normal" fill="#1c1c1c" stroke="#1c1c1c" stroke-width="0.2" textLength="18.68" lengthAdjust="spacingAndGlyphs">APC</text>
<text transform="translate(258.90,315.91) rotate(-45)" font-size="8.3" text-anchor="end" font-weight="normal" fill="#1c1c1c" stroke="#1c1c1c" stroke-width="0.2" textLength="56.29" lengthAdjust="spacingAndGlyphs">APC + Apo A-I</text>
<path d="M207.6,220.7V216H223.3V220.7" fill="none" stroke="#1a1a1a" stroke-width="1.2"/>
<text x="210.55" y="214.35" font-size="8.6" text-anchor="start" font-weight="normal" fill="#333" stroke="#333" stroke-width="0.2" textLength="9.94" lengthAdjust="spacingAndGlyphs">n.s</text>
<path d="M238.3,264.5V259.7H254.1V264.5" fill="none" stroke="#1a1a1a" stroke-width="1.2"/>
<circle cx="246.40" cy="254.80" r="1.05" fill="#222"/>
<text x="281.85" y="201.45" font-size="12" text-anchor="start" font-weight="bold" fill="#000" stroke="#000" stroke-width="0.35">F</text>
<line x1="323.80" y1="207.70" x2="323.80" y2="306.25" stroke="#1a1a1a" stroke-width="1.3"/>
<line x1="320.80" y1="305.60" x2="323.80" y2="305.60" stroke="#1a1a1a" stroke-width="1.0"/>
<text x="317.20" y="308.50" font-size="8.2" text-anchor="end" font-weight="normal" fill="#1c1c1c" stroke="#1c1c1c" stroke-width="0.2">0</text>
<line x1="320.80" y1="274.26" x2="323.80" y2="274.26" stroke="#1a1a1a" stroke-width="1.0"/>
<text x="317.20" y="277.16" font-size="8.2" text-anchor="end" font-weight="normal" fill="#1c1c1c" stroke="#1c1c1c" stroke-width="0.2">25</text>
<line x1="320.80" y1="242.92" x2="323.80" y2="242.92" stroke="#1a1a1a" stroke-width="1.0"/>
<text x="317.20" y="245.82" font-size="8.2" text-anchor="end" font-weight="normal" fill="#1c1c1c" stroke="#1c1c1c" stroke-width="0.2">50</text>
<line x1="320.80" y1="211.58" x2="323.80" y2="211.58" stroke="#1a1a1a" stroke-width="1.0"/>
<text x="317.20" y="214.48" font-size="8.2" text-anchor="end" font-weight="normal" fill="#1c1c1c" stroke="#1c1c1c" stroke-width="0.2">75</text>
<text transform="translate(291.30,256.30) rotate(-90)" font-size="9.0" text-anchor="middle" font-weight="normal" fill="#111" stroke="#111" stroke-width="0.45" textLength="70.61" lengthAdjust="spacingAndGlyphs">EC barrier permeability</text>
<text transform="translate(302.30,256.50) rotate(-90)" font-size="9.0" text-anchor="middle" font-weight="normal" fill="#111" stroke="#111" stroke-width="0.45" textLength="81.61" lengthAdjust="spacingAndGlyphs">(% thrombin-treated cells)</text>
<rect x="328.05" y="233.55" width="12.30" height="72.05" fill="#c88478" stroke="#b4766c" stroke-width="0.7"/>
<rect x="349.15" y="284.95" width="12.30" height="20.65" fill="#8189ad" stroke="#747b9b" stroke-width="0.7"/>
<rect x="370.05" y="300.75" width="12.30" height="4.85" fill="#bcd9a2" stroke="#a9c391" stroke-width="0.7"/>
<line x1="334.30" y1="218.40" x2="334.30" y2="246.50" stroke="#ad0c36" stroke-width="1.0"/>
<line x1="331.90" y1="218.40" x2="336.70" y2="218.40" stroke="#ad0c36" stroke-width="1.0"/>
<line x1="331.90" y1="246.50" x2="336.70" y2="246.50" stroke="#ad0c36" stroke-width="1.0"/>
<path d="M332.40,217.75L336.20,217.75L334.30,221.05Z" fill="#ad0c36"/>
<circle cx="334.30" cy="224.80" r="2.1" fill="#ad0c36"/>
<circle cx="334.30" cy="233.90" r="2.1" fill="#ad0c36"/>
<circle cx="334.30" cy="251.30" r="2.1" fill="#ad0c36"/>
<line x1="355.30" y1="266.90" x2="355.30" y2="301.50" stroke="#2f4a8a" stroke-width="1.1"/>
<line x1="352.80" y1="266.90" x2="357.80" y2="266.90" stroke="#2f4a8a" stroke-width="1.1"/>
<line x1="352.80" y1="301.50" x2="357.80" y2="301.50" stroke="#2f4a8a" stroke-width="1.1"/>
<path d="M353.15,248.23L357.45,248.23L355.30,251.97Z" fill="#21438a"/>
<path d="M348.15,277.13L352.45,277.13L350.30,280.87Z" fill="#21438a"/>
<path d="M353.25,278.73L357.55,278.73L355.40,282.47Z" fill="#21438a"/>
<path d="M358.05,278.43L362.35,278.43L360.20,282.17Z" fill="#21438a"/>
<path d="M348.15,295.63L352.45,295.63L350.30,299.37Z" fill="#21438a"/>
<path d="M353.25,294.83L357.55,294.83L355.40,298.57Z" fill="#21438a"/>
<path d="M358.05,295.93L362.35,295.93L360.20,299.67Z" fill="#21438a"/>
<circle cx="355.30" cy="239.50" r="1.05" fill="#222"/>
<path d="M372.90,295.12L379.30,295.12L376.10,300.68Z" fill="#5ea63a"/>
<path d="M373.30,304.44L378.90,304.44L376.10,299.56Z" fill="#5ea63a"/>
<circle cx="376.00" cy="289.10" r="1.05" fill="#222"/>
<line x1="323.15" y1="305.60" x2="386.20" y2="305.60" stroke="#1a1a1a" stroke-width="1.3"/>
<line x1="334.20" y1="305.60" x2="334.20" y2="308.60" stroke="#1a1a1a" stroke-width="1.0"/>
<line x1="355.30" y1="305.60" x2="355.30" y2="308.60" stroke="#1a1a1a" stroke-width="1.0"/>
<line x1="376.20" y1="305.60" x2="376.20" y2="308.60" stroke="#1a1a1a" stroke-width="1.0"/>
<text x="332.20" y="319.65" font-size="8.2" text-anchor="start" font-weight="normal" fill="#1c1c1c" stroke="#1c1c1c" stroke-width="0.2">0</text>
<text x="348.05" y="319.65" font-size="8.2" text-anchor="start" font-weight="normal" fill="#1c1c1c" stroke="#1c1c1c" stroke-width="0.2">100</text>
<text x="369.05" y="319.65" font-size="8.2" text-anchor="start" font-weight="normal" fill="#1c1c1c" stroke="#1c1c1c" stroke-width="0.2">200</text>
<text x="329.70" y="333.35" font-size="9.3" text-anchor="start" font-weight="normal" fill="#111" stroke="#111" stroke-width="0.45" textLength="50.41" lengthAdjust="spacingAndGlyphs">Apo A-I (µg/ml)</text>
<text x="402.60" y="201.70" font-size="12" text-anchor="start" font-weight="bold" fill="#000" stroke="#000" stroke-width="0.35">G</text>
<line x1="449.80" y1="207.20" x2="449.80" y2="306.25" stroke="#1a1a1a" stroke-width="1.3"/>
<line x1="446.80" y1="305.60" x2="449.80" y2="305.60" stroke="#1a1a1a" stroke-width="1.0"/>
<text x="443.20" y="308.50" font-size="8.2" text-anchor="end" font-weight="normal" fill="#1c1c1c" stroke="#1c1c1c" stroke-width="0.2">0</text>
<line x1="446.80" y1="274.56" x2="449.80" y2="274.56" stroke="#1a1a1a" stroke-width="1.0"/>
<text x="443.20" y="277.46" font-size="8.2" text-anchor="end" font-weight="normal" fill="#1c1c1c" stroke="#1c1c1c" stroke-width="0.2">50</text>
<line x1="446.80" y1="243.53" x2="449.80" y2="243.53" stroke="#1a1a1a" stroke-width="1.0"/>
<text x="443.20" y="246.43" font-size="8.2" text-anchor="end" font-weight="normal" fill="#1c1c1c" stroke="#1c1c1c" stroke-width="0.2">100</text>
<line x1="446.80" y1="212.50" x2="449.80" y2="212.50" stroke="#1a1a1a" stroke-width="1.0"/>
<text x="443.20" y="215.40" font-size="8.2" text-anchor="end" font-weight="normal" fill="#1c1c1c" stroke="#1c1c1c" stroke-width="0.2">150</text>
<text transform="translate(411.16,256.25) rotate(-90)" font-size="9.0" text-anchor="middle" font-weight="normal" fill="#111" stroke="#111" stroke-width="0.45" textLength="71.32" lengthAdjust="spacingAndGlyphs">EC barrier permeability</text>
<text transform="translate(422.16,256.05) rotate(-90)" font-size="9.0" text-anchor="middle" font-weight="normal" fill="#111" stroke="#111" stroke-width="0.45" textLength="81.31" lengthAdjust="spacingAndGlyphs">(% thrombin-treated cells)</text>
<rect x="451.95" y="305.65" width="7.90" height="0.10" fill="#555d78" stroke="#4c536c" stroke-width="0.7"/>
<rect x="464.45" y="244.35" width="7.90" height="61.25" fill="#cf968b" stroke="#ba877d" stroke-width="0.7"/>
<rect x="477.25" y="277.95" width="7.90" height="27.65" fill="#868eb2" stroke="#787fa0" stroke-width="0.7"/>
<rect x="489.45" y="295.95" width="7.90" height="9.65" fill="#d09b5f" stroke="#bb8b55" stroke-width="0.7"/>
<rect x="501.65" y="297.75" width="7.90" height="7.85" fill="#b5d1f1" stroke="#a2bcd8" stroke-width="0.7"/>
<circle cx="453.60" cy="305.40" r="1.9" fill="#4a5578"/>
<circle cx="456.30" cy="305.40" r="1.9" fill="#4a5578"/>
<circle cx="459.00" cy="305.40" r="1.9" fill="#4a5578"/>
<circle cx="466.20" cy="243.60" r="1.8" fill="#ad0c36"/>
<circle cx="468.40" cy="242.30" r="1.8" fill="#ad0c36"/>
<circle cx="470.70" cy="243.60" r="1.8" fill="#ad0c36"/>
<path d="M477.20,278.91L480.20,278.91L478.70,276.30Z" fill="#21438a"/>
<path d="M479.40,277.70L482.40,277.70L480.90,275.09Z" fill="#21438a"/>
<path d="M481.70,278.91L484.70,278.91L483.20,276.30Z" fill="#21438a"/>
<line x1="493.40" y1="291.00" x2="493.40" y2="297.50" stroke="#a8661a" stroke-width="1.0"/>
<line x1="491.40" y1="291.00" x2="495.40" y2="291.00" stroke="#a8661a" stroke-width="1.0"/>
<line x1="491.40" y1="297.50" x2="495.40" y2="297.50" stroke="#a8661a" stroke-width="1.0"/>
<path d="M491.90,291.00L494.90,291.00L493.40,293.61Z" fill="#a8661a"/>
<path d="M491.90,294.91L494.90,294.91L493.40,292.30Z" fill="#a8661a"/>
<path d="M489.90,297.72L492.70,297.72L491.30,295.28Z" fill="#a8661a"/>
<path d="M494.10,297.72L496.90,297.72L495.50,295.28Z" fill="#a8661a"/>
<line x1="505.60" y1="294.00" x2="505.60" y2="299.00" stroke="#4a90da" stroke-width="1.0"/>
<line x1="503.60" y1="294.00" x2="507.60" y2="294.00" stroke="#4a90da" stroke-width="1.0"/>
<line x1="503.60" y1="299.00" x2="507.60" y2="299.00" stroke="#4a90da" stroke-width="1.0"/>
<path d="M504.10,294.70L507.10,294.70L505.60,292.09Z" fill="#4a90da"/>
<path d="M502.10,298.70L505.10,298.70L503.60,296.09Z" fill="#4a90da"/>
<path d="M506.10,298.70L509.10,298.70L507.60,296.09Z" fill="#4a90da"/>
<circle cx="492.10" cy="281.10" r="1.05" fill="#222"/>
<circle cx="495.10" cy="281.10" r="1.05" fill="#222"/>
<circle cx="504.60" cy="281.10" r="1.05" fill="#222"/>
<circle cx="507.60" cy="281.10" r="1.05" fill="#222"/>
<line x1="449.15" y1="305.60" x2="512.00" y2="305.60" stroke="#1a1a1a" stroke-width="1.3"/>
<line x1="455.90" y1="305.60" x2="455.90" y2="308.60" stroke="#1a1a1a" stroke-width="1.0"/>
<line x1="468.40" y1="305.60" x2="468.40" y2="308.60" stroke="#1a1a1a" stroke-width="1.0"/>
<line x1="481.20" y1="305.60" x2="481.20" y2="308.60" stroke="#1a1a1a" stroke-width="1.0"/>
<line x1="493.40" y1="305.60" x2="493.40" y2="308.60" stroke="#1a1a1a" stroke-width="1.0"/>
<line x1="505.60" y1="305.60" x2="505.60" y2="308.60" stroke="#1a1a1a" stroke-width="1.0"/>
<text transform="translate(459.55,318.26) rotate(-45)" font-size="8.3" text-anchor="end" font-weight="normal" fill="#1c1c1c" stroke="#1c1c1c" stroke-width="0.2" textLength="36.09" lengthAdjust="spacingAndGlyphs">Untreated</text>
<text transform="translate(472.70,316.76) rotate(-45)" font-size="8.3" text-anchor="end" font-weight="normal" fill="#1c1c1c" stroke="#1c1c1c" stroke-width="0.2" textLength="33.97" lengthAdjust="spacingAndGlyphs">Thrombin</text>
<text transform="translate(484.50,317.41) rotate(-45)" font-size="8.3" text-anchor="end" font-weight="normal" fill="#1c1c1c" stroke="#1c1c1c" stroke-width="0.2" textLength="16.96" lengthAdjust="spacingAndGlyphs">APC</text>
<text transform="translate(497.05,317.01) rotate(-45)" font-size="8.3" text-anchor="end" font-weight="normal" fill="#1c1c1c" stroke="#1c1c1c" stroke-width="0.2" textLength="57.29" lengthAdjust="spacingAndGlyphs">APC + p-ApoAI</text>
<text transform="translate(509.25,316.81) rotate(-45)" font-size="8.3" text-anchor="end" font-weight="normal" fill="#1c1c1c" stroke="#1c1c1c" stroke-width="0.2" textLength="55.65" lengthAdjust="spacingAndGlyphs">APC + r-ApoAI</text>
<rect x="0.00" y="0.00" width="520.00" height="1.00" fill="#000"/>
<rect x="0.00" y="0.00" width="1.00" height="373.00" fill="#000"/>
<rect x="519.00" y="0.00" width="1.00" height="373.00" fill="#000"/>
<rect x="0.00" y="371.40" width="520.00" height="1.60" fill="#000"/>
</svg></body></html>
